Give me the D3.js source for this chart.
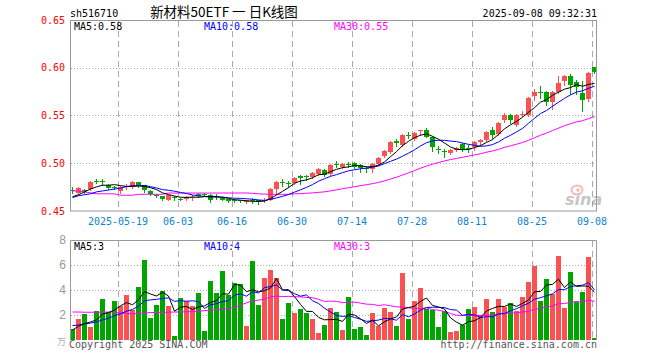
<!DOCTYPE html>
<html>
<head>
<meta charset="utf-8">
<script src="https://cdn.jsdelivr.net/npm/d3@7"></script>
<style>
body { margin: 0; background: #fff; }
svg { display: block; }
text { font-family: "DejaVu Sans Mono", monospace; font-size: 10px; }
</style>
</head>
<body>
<svg id="chart" width="660" height="360"></svg>
<script>
// trading days shown (2025)
const dates = [
  "05-07","05-08","05-09","05-12","05-13","05-14","05-15","05-16","05-19","05-20","05-21","05-22","05-23","05-26","05-27","05-28","05-29","05-30",
  "06-03","06-04","06-05","06-06","06-09","06-10","06-11","06-12","06-13","06-16","06-17","06-18","06-19","06-20","06-23","06-24","06-25","06-26","06-27","06-30",
  "07-01","07-02","07-03","07-04","07-07","07-08","07-09","07-10","07-11","07-14","07-15","07-16","07-17","07-18","07-21","07-22","07-23","07-24","07-25","07-28","07-29","07-30","07-31",
  "08-01","08-04","08-05","08-06","08-07","08-08","08-11","08-12","08-13","08-14","08-15","08-18","08-19","08-20","08-21","08-22","08-25","08-26","08-27","08-28","08-29",
  "09-01","09-02","09-03","09-04","09-05","09-08"
].map(d => "2025-" + d);

const opens = [
  0.472,0.469,0.472,0.473,0.481,0.481,0.477,0.475,0.471,0.475,
  0.475,0.480,0.477,0.471,0.467,0.466,0.462,0.465,0.463,0.463,
  0.464,0.468,0.468,0.467,0.466,0.464,0.463,0.462,0.462,0.459,
  0.461,0.461,0.460,0.462,0.473,0.480,0.479,0.479,0.487,0.487,
  0.486,0.489,0.493,0.489,0.499,0.496,0.499,0.500,0.498,0.495,
  0.494,0.499,0.508,0.512,0.523,0.519,0.530,0.525,0.534,0.535,
  0.528,0.515,0.513,0.511,0.514,0.520,0.516,0.517,0.522,0.524,
  0.535,0.531,0.545,0.551,0.540,0.551,0.550,0.570,0.575,0.575,
  0.564,0.575,0.586,0.591,0.585,0.574,0.567,0.601
];
const highs = [
  0.475,0.475,0.473,0.481,0.484,0.483,0.478,0.476,0.476,0.478,
  0.481,0.480,0.477,0.472,0.468,0.466,0.467,0.466,0.464,0.466,
  0.467,0.469,0.469,0.468,0.468,0.465,0.463,0.463,0.462,0.462,
  0.464,0.462,0.464,0.474,0.481,0.483,0.481,0.486,0.488,0.488,
  0.491,0.495,0.494,0.499,0.502,0.500,0.501,0.501,0.499,0.496,
  0.500,0.507,0.514,0.523,0.525,0.531,0.533,0.533,0.535,0.537,
  0.529,0.518,0.515,0.515,0.517,0.521,0.519,0.523,0.525,0.534,
  0.538,0.543,0.553,0.552,0.552,0.555,0.569,0.578,0.581,0.576,
  0.576,0.591,0.592,0.593,0.587,0.586,0.596,0.601
];
const lows = [
  0.469,0.468,0.469,0.472,0.479,0.477,0.473,0.473,0.469,0.473,
  0.474,0.475,0.470,0.467,0.465,0.462,0.461,0.462,0.461,0.462,
  0.461,0.465,0.466,0.459,0.463,0.461,0.459,0.459,0.459,0.458,
  0.458,0.457,0.459,0.461,0.468,0.476,0.475,0.478,0.478,0.482,
  0.485,0.488,0.487,0.488,0.496,0.495,0.496,0.495,0.491,0.491,
  0.491,0.498,0.507,0.511,0.518,0.518,0.526,0.524,0.530,0.527,
  0.513,0.511,0.507,0.510,0.513,0.513,0.512,0.514,0.519,0.523,
  0.526,0.530,0.543,0.542,0.539,0.549,0.549,0.566,0.568,0.561,
  0.557,0.574,0.582,0.573,0.572,0.555,0.565,0.594
];
const closes = [
  0.471,0.474,0.471,0.480,0.480,0.480,0.474,0.474,0.475,0.476,
  0.480,0.476,0.472,0.468,0.466,0.463,0.467,0.464,0.462,0.465,
  0.465,0.466,0.467,0.462,0.465,0.462,0.460,0.460,0.460,0.461,
  0.460,0.459,0.462,0.473,0.480,0.479,0.478,0.485,0.485,0.486,
  0.490,0.494,0.488,0.498,0.498,0.499,0.498,0.496,0.495,0.494,
  0.499,0.506,0.513,0.522,0.521,0.530,0.529,0.532,0.535,0.528,
  0.517,0.514,0.512,0.514,0.516,0.515,0.515,0.522,0.524,0.533,
  0.530,0.542,0.551,0.545,0.551,0.552,0.568,0.575,0.574,0.564,
  0.575,0.584,0.591,0.582,0.580,0.566,0.594,0.596
];
// volume, 万
const volumes = [
  0.88,1.68,2.08,1.04,2.32,3.25,2.27,3.12,2.72,3.6,
  2.4,4.24,6.4,1.76,2.8,3.92,2.72,0.32,3.36,3.09,
  2.72,3.76,0.72,4.72,3.79,5.52,3.6,4.56,4.51,1.12,
  6.32,2.8,4.96,5.6,4.96,1.68,2.96,2.16,2.48,2.16,
  1.68,0.56,1.2,2.56,2.27,0.83,3.44,0.91,1.04,0.4,
  2.16,1.12,2.56,2.24,1.12,5.36,1.68,3.12,4.16,2.48,
  2.4,1.04,2.32,0.64,0.72,1.2,2.48,2.64,2.0,3.28,
  2.24,3.28,2.64,2.96,2.32,3.44,4.64,5.92,3.12,4.88,
  3.68,6.72,2.56,5.44,3.04,3.84,6.64,0.16
];

// MA values at the left edge (need days before the window)
const ma5Head = [0.465, 0.467, 0.470, 0.473];
const ma10Head = [0.464, 0.466, 0.467, 0.468, 0.470, 0.471, 0.472, 0.473, 0.474];
const ma30Head = [0.471,0.471,0.470,0.469,0.468,0.468,0.468,0.468,0.4665,0.4665,0.4665,
  0.4675,0.4675,0.4675,0.4675,0.4675,0.4688,0.4688,0.4688,0.4688,0.4688,0.4688,0.4688,
  0.4688,0.4688,0.4688,0.4688,0.4688,0.4688];
const volMa5Head = [0.8, 1.1, 1.3, 1.45];
const volMa10Head = [1.15, 1.2, 1.3, 1.35, 1.45, 1.6, 1.75, 1.95, 2.1];
const volMa30Head = [2.24,2.24,2.22,2.22,2.22,2.22,2.24,2.24,2.15,2.12,2.1,2.12,2.15,
  2.2,2.2,2.22,2.22,2.24,2.24,2.26,2.28,2.3,2.35,2.4,2.42,2.45,2.5,2.6,2.8];

const priceTicks = [0.45, 0.50, 0.55, 0.60, 0.65];
const volTicks = [2, 4, 6, 8];
const tickDates = ["2025-05-19","2025-06-03","2025-06-16","2025-06-30","2025-07-14","2025-07-28","2025-08-11","2025-08-25","2025-09-08"];
const tickLabels = ["2025-05-19","06-03","06-16","06-30","07-14","07-28","08-11","08-25","09-08"];

const RED = "#fa5252", GREEN = "#00a600", GRID = "#aaa", FRAME = "#999";

function movingAvg(vals, n, head) {
  return vals.map((v, i) => {
    if (i < n - 1) return head[i];
    return d3.mean(vals.slice(i - n + 1, i + 1));
  });
}

const svg = d3.select("#chart");
const x = d3.scaleBand().domain(dates).range([70, 598]).padding(0);
const yP = d3.scaleLinear().domain([0.45, 0.65]).range([211, 20]);
const yV = d3.scaleLinear().domain([0, 8]).range([340, 240]);
const cx = d => x(d) + 2.5;

// header
svg.append("text").attr("x", 70).attr("y", 17).text("sh516710");
svg.append("text").attr("x", 224).attr("y", 17).attr("text-anchor", "middle")
  .style("font-family", '"Noto Sans CJK SC", sans-serif').style("font-size", "13.5px")
  .text("新材料50ETF 一 日K线图");
svg.append("text").attr("x", 597).attr("y", 17).attr("text-anchor", "end").text("2025-09-08 09:32:31");

// grids
function vGrid(y0, y1) {
  svg.append("g").selectAll("line").data(tickDates).enter().append("line")
    .attr("x1", d => x(d) + 0.5).attr("x2", d => x(d) + 0.5)
    .attr("y1", y0).attr("y2", y1)
    .attr("stroke", GRID).attr("stroke-dasharray", "6,4");
}
vGrid(21, 211);
vGrid(241, 340);

svg.append("g").selectAll("line").data([0.50, 0.55, 0.60]).enter().append("line")
  .attr("x1", 71).attr("x2", 596)
  .attr("y1", d => Math.round(yP(d)) + 0.5).attr("y2", d => Math.round(yP(d)) + 0.5)
  .attr("stroke", GRID).attr("stroke-dasharray", "1,2");
svg.append("g").selectAll("line").data([2, 4, 6]).enter().append("line")
  .attr("x1", 71).attr("x2", 596)
  .attr("y1", d => Math.round(yV(d)) + 0.5).attr("y2", d => Math.round(yV(d)) + 0.5)
  .attr("stroke", GRID).attr("stroke-dasharray", "1,2");

// sina watermark
const wm = svg.append("g").attr("opacity", 0.55);
wm.append("ellipse").attr("cx", 577).attr("cy", 190).attr("rx", 5.5).attr("ry", 4.5)
  .attr("fill", "none").attr("stroke", "#f08080").attr("stroke-width", 2);
wm.append("circle").attr("cx", 578).attr("cy", 190).attr("r", 1.8).attr("fill", "#f08080");
wm.append("text").attr("x", 565).attr("y", 205)
  .style("font-family", '"DejaVu Sans", sans-serif').style("font-size", "16px")
  .style("font-weight", "bold").style("font-style", "italic")
  .attr("fill", "#999").text("sina");

// candles
const isUp = i => closes[i] > opens[i];
const candles = svg.append("g").selectAll("g").data(dates).enter().append("g");
candles.append("line")
  .attr("x1", d => cx(d)).attr("x2", d => cx(d))
  .attr("y1", (d, i) => Math.round(yP(highs[i]))).attr("y2", (d, i) => Math.round(yP(lows[i])) + 1)
  .attr("stroke", (d, i) => isUp(i) ? RED : GREEN);
candles.append("rect")
  .attr("x", d => x(d)).attr("width", 5)
  .attr("y", (d, i) => Math.round(yP(Math.max(opens[i], closes[i]))))
  .attr("height", (d, i) => Math.max(1, Math.round(yP(Math.min(opens[i], closes[i]))) - Math.round(yP(Math.max(opens[i], closes[i])))))
  .attr("fill", (d, i) => isUp(i) ? RED : GREEN);

// volume bars
svg.append("g").selectAll("rect").data(dates).enter().append("rect")
  .attr("x", d => x(d)).attr("width", 5)
  .attr("y", (d, i) => Math.round(yV(volumes[i])))
  .attr("height", (d, i) => 340 - Math.round(yV(volumes[i])))
  .attr("fill", (d, i) => isUp(i) ? RED : GREEN);

// moving averages
function maLine(vals, y, color) {
  const line = d3.line().x((v, i) => cx(dates[i])).y(v => y(v));
  svg.append("path").datum(vals).attr("d", line)
    .attr("fill", "none").attr("stroke", color).attr("stroke-width", 1);
}
maLine(movingAvg(closes, 30, ma30Head), yP, "#ff00ff");
maLine(movingAvg(closes, 10, ma10Head), yP, "#0000ff");
maLine(movingAvg(closes, 5, ma5Head), yP, "#000");
maLine(movingAvg(volumes, 30, volMa30Head), yV, "#ff00ff");
maLine(movingAvg(volumes, 10, volMa10Head), yV, "#0000ff");
maLine(movingAvg(volumes, 5, volMa5Head), yV, "#000");

// frames
svg.append("rect").attr("x", 70.5).attr("y", 20.5).attr("width", 526).attr("height", 190.5)
  .attr("fill", "none").attr("stroke", FRAME);
svg.append("path").attr("d", "M70.5,340V240.5H596.5V340")
  .attr("fill", "none").attr("stroke", FRAME);

// axes
const pAxis = svg.append("g").attr("transform", "translate(70,0)")
  .call(d3.axisLeft(yP).tickValues(priceTicks).tickSize(0).tickPadding(5).tickFormat(d3.format(".2f")));
pAxis.select(".domain").remove();
pAxis.selectAll("text").attr("fill", "#f00").style("font-family", '"DejaVu Sans Mono", monospace').style("font-size", "10px");

const vAxis = svg.append("g").attr("transform", "translate(70,0)")
  .call(d3.axisLeft(yV).tickValues(volTicks).tickSize(0).tickPadding(4));
vAxis.select(".domain").remove();
vAxis.selectAll("text").attr("fill", "#999").style("font-family", '"Liberation Sans", sans-serif').style("font-size", "12px");
svg.append("text").attr("x", 66).attr("y", 345).attr("text-anchor", "end")
  .style("font-family", '"Noto Sans CJK SC", sans-serif').style("font-size", "9px")
  .attr("fill", "#aaa").text("万");

const xAxis = svg.append("g").attr("transform", "translate(-3,211)")
  .call(d3.axisBottom(x).tickValues(tickDates).tickSize(0).tickPadding(7).tickFormat((d, i) => tickLabels[i]));
xAxis.select(".domain").remove();
xAxis.selectAll("text").attr("fill", "#0b84d0").style("font-family", '"DejaVu Sans Mono", monospace').style("font-size", "10px");

// legends
const legends = [["MA5:0.58", "#000", 74], ["MA10:0.58", "#0000ff", 204], ["MA30:0.55", "#ff00ff", 334]];
const volLegends = [["MA5:3", "#000", 74], ["MA10:4", "#0000ff", 204], ["MA30:3", "#ff00ff", 334]];
legends.forEach(l => svg.append("text").attr("x", l[2]).attr("y", 29.5).attr("fill", l[1]).text(l[0]));
volLegends.forEach(l => svg.append("text").attr("x", l[2]).attr("y", 250).attr("fill", l[1]).text(l[0]));

// footer
svg.append("text").attr("x", 69).attr("y", 348).attr("fill", "#555").text("Copyright 2025 SINA.COM");
svg.append("text").attr("x", 597).attr("y", 348).attr("text-anchor", "end").attr("fill", "#555").text("http://finance.sina.com.cn");
</script>
</body>
</html>
